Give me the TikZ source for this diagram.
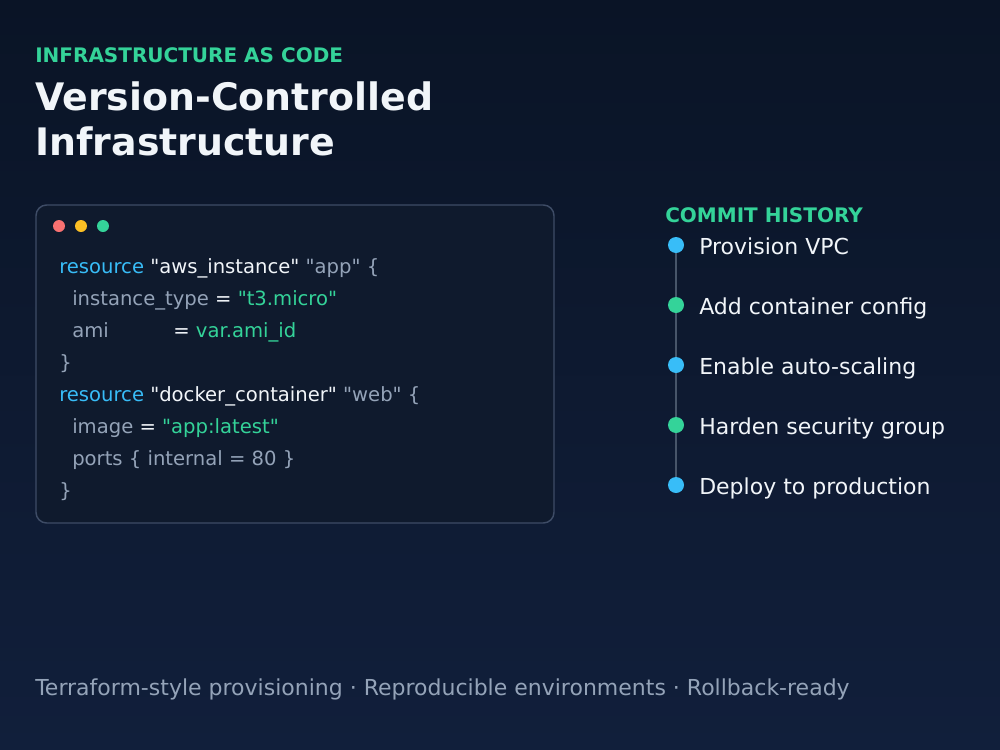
\documentclass[tikz,border=0pt]{standalone}
\usepackage{fontspec}
\setmainfont{DejaVu Sans}
\newfontfamily\nqfont{DejaVu Sans}
\newcommand{\qq}{{\nqfont\symbol{34}}}
\begin{document}
\definecolor{bgtop}{HTML}{0A1426}
\definecolor{bgbot}{HTML}{111F3B}
\definecolor{grn}{HTML}{34D399}
\definecolor{blu}{HTML}{38BDF8}
\definecolor{gry}{HTML}{94A3B8}
\definecolor{wht}{HTML}{F1F5F9}
\definecolor{boxf}{HTML}{0F1A2D}
\definecolor{boxd}{HTML}{3E4C66}
\definecolor{lne}{HTML}{475569}
\definecolor{rd}{HTML}{F87171}
\definecolor{yl}{HTML}{FBBF24}
\begin{tikzpicture}[x=0.75pt,y=-0.75pt,
  t/.style={anchor=base west,inner sep=0pt},
  code/.style={t,font=\fontsize{14.7}{17}\selectfont},
  cmt/.style={t,font=\fontsize{16.5}{19}\selectfont,text=wht},
  dot/.style={circle,inner sep=0pt,minimum size=12pt}]
\shade[top color=bgtop,bottom color=bgbot] (0,0) rectangle (1000,750);
\useasboundingbox (0,0) rectangle (1000,750);
\node[t,text=grn,font=\bfseries\fontsize{15}{17}\selectfont] (kick) at (35,62) {INFRASTRUCTURE AS CODE};
\node[t,text=wht,font=\bfseries\fontsize{28.4}{32}\selectfont] (t1) at (35,110) {Version-Controlled};
\node[t,text=wht,font=\bfseries\fontsize{28.4}{32}\selectfont] (t2) at (35,155) {Infrastructure};
\draw[boxd,fill=boxf,line width=1.1pt,rounded corners=8pt] (36,205) rectangle (554,523);
\fill[rd] (59,226) circle (6);
\fill[yl] (81,226) circle (6);
\fill[grn] (103,226) circle (6);
\node[code] (c1) at (59,273) {\textcolor{blu}{resource} \textcolor{wht}{\qq aws\_instance\qq} \textcolor{gry}{\qq app\qq\ \{}};
\node[code] (c2) at (72,305) {\textcolor{gry}{instance\_type} \textcolor{wht}{=} \textcolor{grn}{\qq t3.micro\qq}};
\node[code,text=gry] (c3a) at (72,337) {ami};
\node[code] (c3) at (173,337) {\textcolor{wht}{=} \textcolor{grn}{var.ami\_id}};
\node[code,text=gry] (c4) at (59,369) {\}};
\node[code] (c5) at (59,401) {\textcolor{blu}{resource} \textcolor{wht}{\qq docker\_container\qq} \textcolor{gry}{\qq web\qq\ \{}};
\node[code] (c6) at (72,433) {\textcolor{gry}{image} \textcolor{wht}{=} \textcolor{grn}{\qq app:latest\qq}};
\node[code,text=gry] (c7) at (72,465) {ports \{ internal = 80 \}};
\node[code,text=gry] (c8) at (59,497) {\}};
\node[t,text=grn,font=\bfseries\fontsize{15}{17}\selectfont] (ch) at (665,222) {COMMIT HISTORY};
\draw[lne,line width=1.2pt] (676,245) -- (676,485);
\node[dot,fill=blu] (d1) at (676,245) {};
\node[dot,fill=grn] (d2) at (676,305) {};
\node[dot,fill=blu] (d3) at (676,365) {};
\node[dot,fill=grn] (d4) at (676,425) {};
\node[dot,fill=blu] (d5) at (676,485) {};
\node[cmt] (m1) at (699,254) {Provision VPC};
\node[cmt] (m2) at (699,314) {Add container config};
\node[cmt] (m3) at (699,374) {Enable auto-scaling};
\node[cmt] (m4) at (699,434) {Harden security group};
\node[cmt] (m5) at (699,494) {Deploy to production};
\node[t,text=gry,font=\fontsize{16.5}{19}\selectfont] (ft) at (35,695) {Terraform-style provisioning · Reproducible environments · Rollback-ready};
\end{tikzpicture}
\end{document}
